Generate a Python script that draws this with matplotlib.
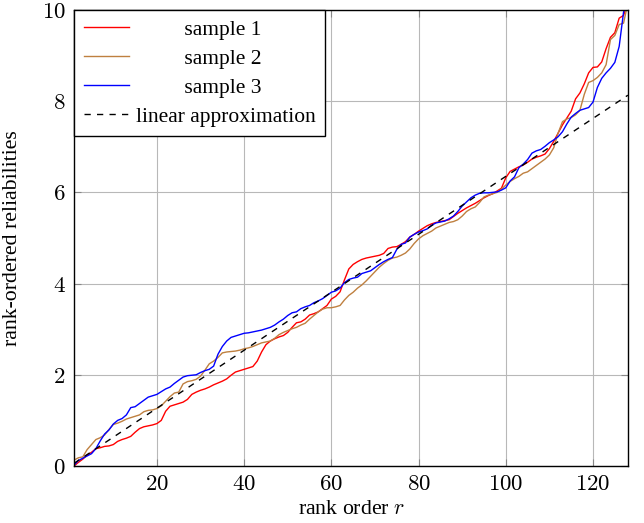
import matplotlib
matplotlib.use("Agg")
import matplotlib.pyplot as plt
import numpy as np

plt.rcParams['font.family'] = ['Liberation Serif', 'DejaVu Serif']
plt.rcParams['mathtext.fontset'] = 'cm'

rank = list(range(1, 129))

sample1 = [0.00, 0.08, 0.15, 0.24, 0.30, 0.38, 0.40, 0.43, 0.44, 0.47,
           0.54, 0.58, 0.61, 0.65, 0.74, 0.82, 0.86, 0.88, 0.90, 0.93,
           1.00, 1.20, 1.31, 1.34, 1.37, 1.40, 1.46, 1.57, 1.62, 1.66,
           1.69, 1.73, 1.78, 1.82, 1.86, 1.91, 1.99, 2.06, 2.09, 2.12,
           2.15, 2.18, 2.30, 2.50, 2.66, 2.74, 2.79, 2.83, 2.86, 2.93,
           3.04, 3.14, 3.16, 3.22, 3.31, 3.34, 3.38, 3.45, 3.52, 3.66,
           3.72, 3.82, 4.08, 4.32, 4.42, 4.48, 4.53, 4.56, 4.58, 4.60,
           4.62, 4.66, 4.77, 4.80, 4.81, 4.86, 4.92, 5.02, 5.08, 5.15,
           5.21, 5.27, 5.31, 5.34, 5.36, 5.38, 5.40, 5.47, 5.54, 5.60,
           5.66, 5.71, 5.76, 5.82, 5.88, 5.93, 5.97, 6.03, 6.09, 6.32,
           6.46, 6.51, 6.56, 6.60, 6.66, 6.73, 6.77, 6.80, 6.84, 6.96,
           7.12, 7.30, 7.48, 7.63, 7.78, 8.05, 8.18, 8.38, 8.62, 8.74,
           8.75, 8.86, 9.15, 9.40, 9.50, 9.82, 9.88, 10.15]

sample2 = [0.13, 0.18, 0.20, 0.36, 0.47, 0.58, 0.62, 0.68, 0.80, 0.91,
           0.94, 0.98, 1.03, 1.06, 1.09, 1.12, 1.19, 1.22, 1.23, 1.26,
           1.32, 1.42, 1.52, 1.60, 1.62, 1.80, 1.85, 1.87, 1.90, 1.97,
           2.10, 2.24, 2.30, 2.38, 2.48, 2.50, 2.51, 2.52, 2.54, 2.57,
           2.59, 2.62, 2.66, 2.70, 2.72, 2.74, 2.80, 2.88, 2.93, 2.97,
           3.01, 3.04, 3.09, 3.13, 3.22, 3.30, 3.38, 3.44, 3.47, 3.47,
           3.49, 3.52, 3.64, 3.74, 3.81, 3.90, 3.97, 4.06, 4.16, 4.26,
           4.36, 4.44, 4.51, 4.56, 4.58, 4.62, 4.67, 4.76, 4.88, 4.98,
           5.05, 5.10, 5.15, 5.22, 5.26, 5.30, 5.34, 5.36, 5.40, 5.48,
           5.58, 5.64, 5.68, 5.78, 5.90, 5.94, 5.97, 6.00, 6.07, 6.16,
           6.24, 6.30, 6.35, 6.42, 6.45, 6.52, 6.59, 6.66, 6.73, 6.82,
           6.98, 7.30, 7.55, 7.61, 7.64, 7.70, 7.80, 8.15, 8.41, 8.45,
           8.52, 8.62, 8.80, 9.35, 9.44, 9.68, 9.71, 10.15]

sample3 = [0.02, 0.12, 0.17, 0.22, 0.27, 0.38, 0.55, 0.70, 0.79, 0.92,
           1.00, 1.04, 1.12, 1.28, 1.30, 1.37, 1.44, 1.51, 1.54, 1.57,
           1.63, 1.69, 1.73, 1.81, 1.88, 1.95, 1.98, 1.99, 2.00, 2.05,
           2.09, 2.12, 2.19, 2.45, 2.62, 2.74, 2.82, 2.85, 2.88, 2.91,
           2.92, 2.94, 2.96, 2.98, 3.01, 3.04, 3.09, 3.16, 3.22, 3.30,
           3.36, 3.38, 3.45, 3.49, 3.52, 3.58, 3.62, 3.67, 3.74, 3.81,
           3.84, 3.90, 4.02, 4.09, 4.12, 4.14, 4.22, 4.25, 4.28, 4.35,
           4.42, 4.48, 4.53, 4.57, 4.75, 4.86, 4.89, 5.02, 5.08, 5.13,
           5.16, 5.20, 5.28, 5.33, 5.35, 5.37, 5.42, 5.48, 5.58, 5.70,
           5.79, 5.88, 5.94, 5.98, 5.99, 5.99, 6.00, 6.01, 6.05, 6.10,
           6.25, 6.34, 6.54, 6.62, 6.72, 6.86, 6.91, 6.94, 7.01, 7.09,
           7.15, 7.22, 7.33, 7.50, 7.65, 7.73, 7.80, 7.83, 7.86, 7.98,
           8.30, 8.50, 8.62, 8.72, 8.85, 9.20, 9.95, 10.25]

lin_r = [1, 128]
lin_y = [0.06, 8.13]

labels = ["sample 1", "sample 2", "sample 3", "linear approximation"]
x_ticks = [20, 40, 60, 80, 100, 120]
y_ticks = [0, 2, 4, 6, 8, 10]

fig = plt.figure(figsize=(6.44, 5.23), dpi=100)
ax = fig.add_axes([0.115, 0.109, 0.86, 0.872])

ax.plot(rank, sample1, color='red', lw=1.0, label=labels[0])
ax.plot(rank, sample2, color=(0.75, 0.5, 0.25), lw=1.0, label=labels[1])
ax.plot(rank, sample3, color='blue', lw=1.0, label=labels[2])
ax.plot(lin_r, lin_y, color='black', lw=1.0, ls=(0, (4.5, 4.5)), label=labels[3])

ax.set_xlim(1, 128)
ax.set_ylim(0, 10)
ax.set_xticks(x_ticks)
ax.set_yticks(y_ticks)
ax.set_xticklabels([f"${t}$" for t in x_ticks], fontsize=16.5)
ax.set_yticklabels([f"${t}$" for t in y_ticks], fontsize=16.5)
ax.grid(True, color='#b8b8b8', lw=0.8)
ax.set_axisbelow(True)
ax.tick_params(direction='in', top=True, right=True, length=5, width=0.8,
               color='#888888', pad=6)
for s in ax.spines.values():
    s.set_linewidth(1.0)
    s.set_color('black')

ax.set_xlabel("rank order $r$", fontsize=15.7)
ax.set_ylabel("rank-ordered reliabilities", fontsize=15.7)
ax.xaxis.set_label_coords(0.5, -0.095)
ax.yaxis.set_label_coords(-0.112, 0.5)
ax.xaxis.label.set_va('center')
ax.yaxis.label.set_va('center')

pad = "         "
leg = ax.legend([l for l in ax.get_lines()],
                [pad + labels[0], pad + labels[1], pad + labels[2], labels[3]],
                loc='upper left', bbox_to_anchor=(0, 1), borderaxespad=0,
                fontsize=15.5, fancybox=False, framealpha=1, edgecolor='black',
                handlelength=2.1, labelspacing=0.41, borderpad=0.46,
                handletextpad=0.3)
leg.get_frame().set_linewidth(1.0)

fig.savefig("out.png", dpi=100)
